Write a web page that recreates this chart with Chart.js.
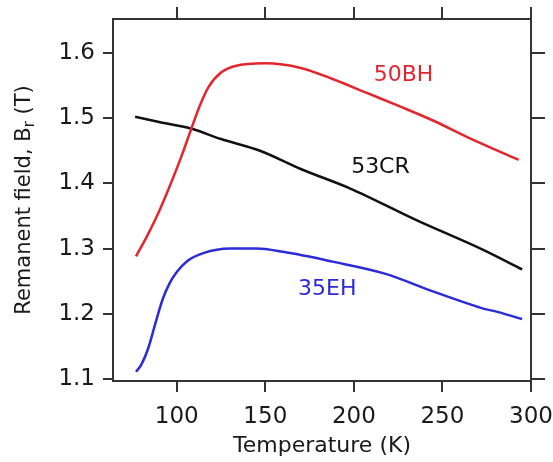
<!DOCTYPE html>
<html>
<head>
<meta charset="utf-8">
<script src="https://cdn.jsdelivr.net/npm/chart.js@4.4.0/dist/chart.umd.min.js"></script>
<style>
  html, body { margin: 0; padding: 0; background: #fff; }
</style>
</head>
<body>
<canvas id="chart" width="553" height="462"></canvas>
<script>
// Remanent field vs temperature
const bhTemp  = [77, 83, 90, 97, 103, 108, 113, 118, 125, 133, 150, 170, 188, 207, 226, 245, 264, 293];
const bhField = [1.288, 1.318, 1.357, 1.402, 1.444, 1.482, 1.519, 1.548, 1.570, 1.580, 1.584, 1.577, 1.560, 1.539, 1.518, 1.496, 1.471, 1.436];

const crTemp  = [76.5, 90, 108, 125, 147, 170, 198, 235, 273, 295];
const crField = [1.502, 1.494, 1.484, 1.468, 1.450, 1.422, 1.392, 1.344, 1.298, 1.268];

const ehTemp  = [77, 80, 84, 88, 92, 96, 100, 106, 115, 130, 145, 160, 188, 217, 245, 264, 273, 281, 295];
const ehField = [1.111, 1.122, 1.148, 1.186, 1.222, 1.247, 1.264, 1.281, 1.293, 1.300, 1.300, 1.295, 1.280, 1.262, 1.234, 1.216, 1.208, 1.203, 1.192];

const xTicks = [100, 150, 200, 250, 300];
const yTicks = [1.1, 1.2, 1.3, 1.4, 1.5, 1.6];

// curve labels placed in data coordinates
const seriesNames = ['50BH', '53CR', '35EH'];
const labelTemp  = [228, 215, 185];
const labelField = [1.566, 1.424, 1.237];

const colors = ['#e3262e', '#111111', '#2b2bd9'];
const axisColor = '#333333';
const textColor = '#1a1a1a';
const fontFamily = '"DejaVu Sans", Verdana, sans-serif';

const toPoints = (xs, ys) => xs.map((t, i) => ({ x: t, y: ys[i] }));

const xRange = { min: 64, max: 300 };
const yRange = { min: 1.097, max: 1.652 };

function frameAxis(position, size, tickLength, showLabels) {
    const horizontal = position === 'top' || position === 'bottom';
    const tickValues = horizontal ? xTicks : yTicks;
    return {
        type: 'linear',
        position: position,
        min: horizontal ? xRange.min : yRange.min,
        max: horizontal ? xRange.max : yRange.max,
        afterBuildTicks: (scale) => {
            scale.ticks = tickValues.map(v => ({ value: v }));
        },
        afterFit: (scale) => {
            // fixed box sizes so the plot frame lands where the reference has it
            if (horizontal) scale.height = size; else scale.width = size;
            scale.paddingLeft = 0;
            scale.paddingRight = 0;
            scale.paddingTop = 0;
            scale.paddingBottom = 0;
        },
        border: { display: true, color: axisColor, width: 2 },
        grid: {
            drawOnChartArea: false,
            drawTicks: true,
            tickLength: tickLength,
            color: axisColor,
            lineWidth: 2
        },
        ticks: {
            display: showLabels,
            color: textColor,
            padding: horizontal ? 11 : 8,
            font: { family: fontFamily, size: 23 },
            callback: (v) => horizontal ? String(v) : Number(v).toFixed(1)
        }
    };
}

const xAxis = frameAxis('bottom', 81, 11, true);
xAxis.title = {
    display: true,
    text: 'Temperature (K)',
    color: textColor,
    font: { family: fontFamily, size: 22 },
    padding: { top: 0, bottom: 3 }
};

// Labels next to each curve and the y title with its subscript
const annotations = {
    id: 'annotations',
    afterDraw(chart) {
        const { ctx, chartArea, scales: { x, y } } = chart;
        ctx.save();
        ctx.font = '22px ' + fontFamily;
        ctx.textAlign = 'center';
        ctx.textBaseline = 'middle';
        seriesNames.forEach((name, i) => {
            ctx.fillStyle = colors[i];
            ctx.fillText(name, x.getPixelForValue(labelTemp[i]), y.getPixelForValue(labelField[i]));
        });

        // y axis title: Remanent field, B_r (T)
        const main = 'Remanent field, B';
        const sub = 'r';
        const tail = ' (T)';
        const bigFont = '21px ' + fontFamily;
        const smallFont = '15px ' + fontFamily;
        ctx.font = bigFont;
        const w1 = ctx.measureText(main).width;
        const w3 = ctx.measureText(tail).width;
        ctx.font = smallFont;
        const w2 = ctx.measureText(sub).width;
        const total = w1 + w2 + w3;
        ctx.translate(23, (chartArea.top + chartArea.bottom) / 2);
        ctx.rotate(-Math.PI / 2);
        ctx.fillStyle = textColor;
        ctx.textAlign = 'left';
        ctx.textBaseline = 'alphabetic';
        let pos = -total / 2;
        ctx.font = bigFont;
        ctx.fillText(main, pos, 7);
        pos += w1;
        ctx.font = smallFont;
        ctx.fillText(sub, pos, 11);
        pos += w2;
        ctx.font = bigFont;
        ctx.fillText(tail, pos, 7);
        ctx.restore();
    }
};

const chart = new Chart(document.getElementById('chart').getContext('2d'), {
    type: 'scatter',
    data: {
        datasets: [
            { label: seriesNames[0], data: toPoints(bhTemp, bhField), borderColor: colors[0] },
            { label: seriesNames[1], data: toPoints(crTemp, crField), borderColor: colors[1] },
            { label: seriesNames[2], data: toPoints(ehTemp, ehField), borderColor: colors[2] }
        ].map(ds => Object.assign(ds, {
            showLine: true,
            borderWidth: 2.5,
            pointRadius: 0,
            cubicInterpolationMode: 'monotone',
            fill: false
        }))
    },
    options: {
        responsive: false,
        animation: false,
        layout: { padding: 0 },
        scales: {
            x: xAxis,
            xTop: frameAxis('top', 19, 12, false),
            y: frameAxis('left', 113, 10, true),
            yRight: frameAxis('right', 22, 14, false)
        },
        plugins: {
            legend: { display: false },
            tooltip: { enabled: false }
        }
    },
    plugins: [annotations]
});
</script>
</body>
</html>
